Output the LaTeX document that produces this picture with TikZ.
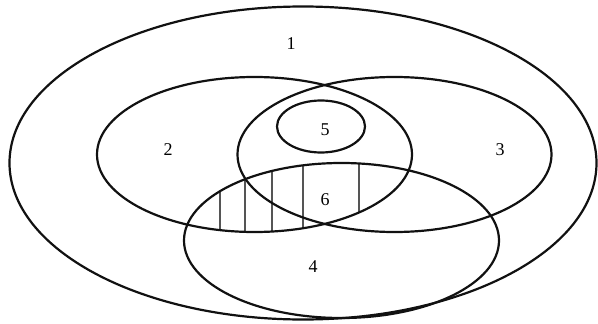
\documentclass[tikz,border=0pt]{standalone}
\usepackage{fontspec}
\setmainfont{Liberation Serif}
\usepackage{tikz}
\usetikzlibrary{positioning,calc}
\definecolor{cA}{HTML}{111111}
\definecolor{cH}{HTML}{555555}
\tikzset{
  setline/.style={draw=cA,line width=2.2pt},
  hatchline/.style={draw=cH,line width=1.3pt},
  lbl/.style={inner sep=0pt,font=\fontsize{18}{20}\selectfont},
}
\begin{document}
\begin{tikzpicture}[x=1pt,y=-1pt]
  \useasboundingbox (0,0) rectangle (598,324);
  \coordinate (c1) at (303,163);
  \coordinate (c2) at (254.5,154.5);
  \coordinate (c3) at (394.5,154.5);
  \coordinate (c4) at (341.5,240.5);
  \coordinate (c5) at (321,126.5);
  % hatched part of 2 and 4
  \begin{scope}
    \clip (c2) ellipse [x radius=157.5,y radius=77.5];
    \clip (c4) ellipse [x radius=157.5,y radius=77.5];
    \foreach \x in {220,245,272,303,359}{\draw[hatchline] (\x,150) -- (\x,250);}
  \end{scope}
  \draw[setline] (c1) ellipse [x radius=293.5,y radius=156.5];
  \draw[setline] (c2) ellipse [x radius=157.5,y radius=77.5];
  \draw[setline] (c3) ellipse [x radius=157,y radius=77.5];
  \draw[setline] (c4) ellipse [x radius=157.5,y radius=77.5];
  \draw[setline] (c5) ellipse [x radius=44,y radius=26];
  \node[lbl] (l1) at (291,44){1};
  \node[lbl] (l2) at (168,150){2};
  \node[lbl] (l3) at (500,150){3};
  \node[lbl] (l4) at (313,267){4};
  \node[lbl] (l5) at (325,130){5};
  \node[lbl] (l6) at (325,200){6};
\end{tikzpicture}
\end{document}
